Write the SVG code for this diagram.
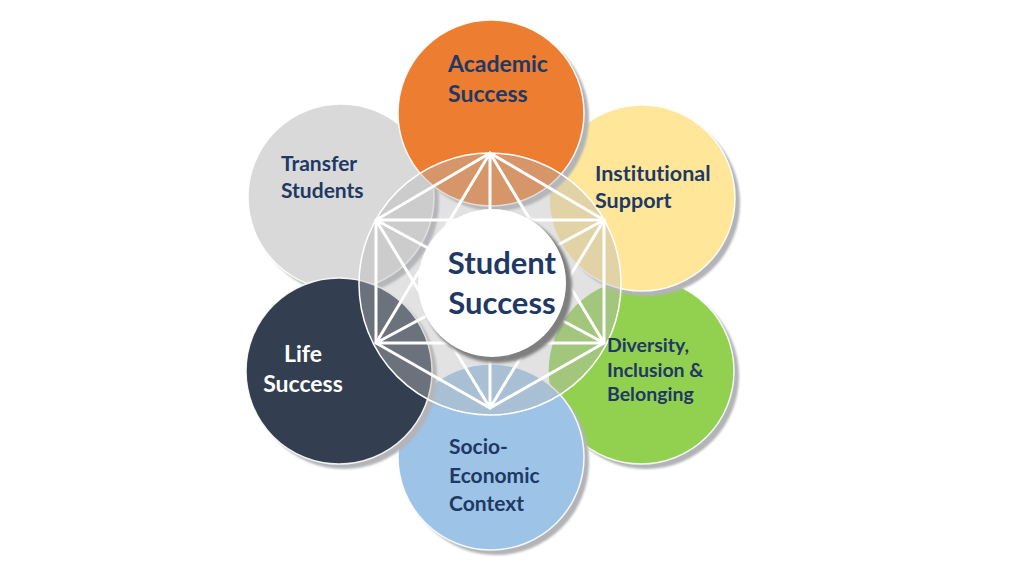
<svg xmlns="http://www.w3.org/2000/svg" width="1024" height="576" viewBox="0 0 1024 576">
  <defs>
    <filter id="blur" x="-10%" y="-10%" width="120%" height="120%">
      <feGaussianBlur stdDeviation="0.8"/>
    </filter>
    <filter id="blur2" x="-10%" y="-10%" width="120%" height="120%">
      <feGaussianBlur stdDeviation="1.5"/>
    </filter>
  </defs>
  <style>
    .shadow { fill: #b2b4b8; filter: url(#blur); }
    .petal { stroke: #ffffff; stroke-width: 1.5; stroke-opacity: 0.9; }
    .lbl { font-family: Lato, "Open Sans", "Liberation Sans", sans-serif; font-weight: bold; fill: #203864; font-variant-ligatures: none; font-feature-settings: "liga" 0, "dlig" 0; }
    .edge { stroke: #ffffff; stroke-width: 3; stroke-linecap: round; fill: none; }
  </style>
  <rect width="1024" height="576" fill="#ffffff"/>

  <g id="transfer-students">
    <circle class="shadow" cx="346" cy="202" r="93"/>
    <circle class="petal" cx="341" cy="197" r="93" fill="#d9d9d9"/>
  </g>
  <g id="diversity">
    <circle class="shadow" cx="646" cy="376" r="93"/>
    <circle class="petal" cx="641" cy="371" r="93" fill="#92d050"/>
  </g>
  <g id="socio-economic">
    <circle class="shadow" cx="496" cy="462" r="93"/>
    <circle class="petal" cx="491" cy="457" r="93" fill="#9dc3e6"/>
  </g>
  <g id="life-success">
    <circle class="shadow" cx="344" cy="376" r="93"/>
    <circle class="petal" cx="339" cy="371" r="93" fill="#333f50"/>
  </g>
  <g id="institutional-support">
    <circle class="shadow" cx="647" cy="203" r="93"/>
    <circle class="petal" cx="642" cy="198" r="93" fill="#ffe699"/>
  </g>
  <g id="academic-success">
    <circle class="shadow" cx="496" cy="118" r="93"/>
    <circle class="petal" cx="491" cy="113" r="93" fill="#ed7d31"/>
  </g>

  <g id="hub-ring">
    <circle cx="490" cy="284" r="131" fill="#b9b9b9" fill-opacity="0.42" stroke="#ffffff" stroke-width="1.5"/>
  </g>

  <g id="connectors">
    <path class="edge" d="M490,153 L604,220 L604,343 L490,408 L376,343 L376,220 Z"/>
    <path class="edge" d="M490,153 L604,343 M490,153 L490,408 M490,153 L376,343
                          M604,220 L490,408 M604,220 L376,343 M604,220 L376,220
                          M604,343 L376,343 M604,343 L376,220
                          M490,408 L376,220"/>
  </g>

  <g id="student-success">
    <circle cx="497" cy="288" r="75" fill="#7f7f7f" filter="url(#blur2)"/>
    <circle cx="492" cy="283" r="74" fill="#ffffff"/>
    <text class="lbl" font-size="31" text-anchor="middle"><tspan x="502" y="274">Student</tspan><tspan x="502" y="314">Success</tspan></text>
  </g>

  <g id="labels">
    <text class="lbl" font-size="23"><tspan x="448" y="72">Academic</tspan><tspan x="448" y="102">Success</tspan></text>
    <text class="lbl" font-size="21"><tspan x="281" y="171">Transfer</tspan><tspan x="281" y="198">Students</tspan></text>
    <text class="lbl" font-size="21.5"><tspan x="595" y="181">Institutional</tspan><tspan x="595" y="208">Support</tspan></text>
    <text class="lbl" font-size="23" text-anchor="middle" style="fill:#ffffff"><tspan x="303" y="362">Life</tspan><tspan x="303" y="392">Success</tspan></text>
    <text class="lbl" font-size="19.5"><tspan x="607" y="352">Diversity,</tspan><tspan x="607" y="377">Inclusion &amp;</tspan><tspan x="607" y="401">Belonging</tspan></text>
    <text class="lbl" font-size="21"><tspan x="449" y="454">Socio-</tspan><tspan x="449" y="483">Economic</tspan><tspan x="449" y="511">Context</tspan></text>
  </g>
</svg>
